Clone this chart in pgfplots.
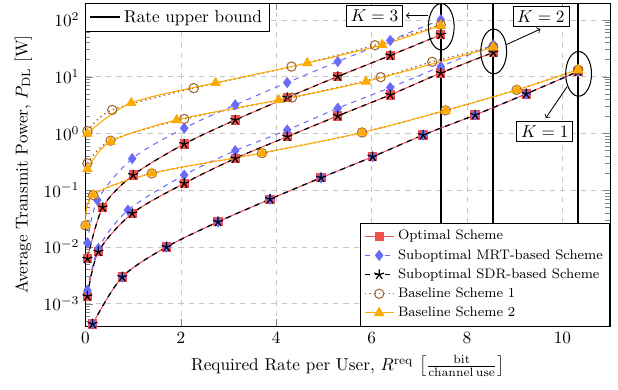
\documentclass[border=0pt]{standalone}
\usepackage{pgfplots}
\pgfplotsset{compat=1.18}
\usetikzlibrary{shapes.geometric}
\definecolor{optcol}{RGB}{240,80,80}
\definecolor{mrtcol}{RGB}{105,105,250}
\definecolor{b1col}{RGB}{160,100,45}
\definecolor{b2col}{RGB}{255,170,0}
\pgfplotsset{
  myaxisbase/.style={
    scale only axis, width=305pt, height=188pt,
    xmin=0, xmax=11, ymin=4e-4, ymax=200,
  },
  opt/.style={optcol, line width=0.6pt, mark=square*, mark size=2.4pt, mark options={solid, fill=optcol}},
  mrt/.style={mrtcol, dashed, line width=0.6pt, mark=diamond*, mark size=2.8pt, mark options={solid, fill=mrtcol}},
  sdr/.style={black, dashed, line width=0.7pt, mark=star, mark size=3pt, mark options={solid, line width=0.7pt}},
  bone/.style={b1col, dotted, line width=0.8pt, mark=o, mark size=2.7pt, mark options={solid, line width=0.6pt}},
  btwo/.style={b2col, line width=0.6pt, mark=triangle*, mark size=3pt, mark options={solid, fill=b2col}},
}
\begin{document}
\begin{tikzpicture}
\begin{semilogyaxis}[myaxisbase,
  xtick={0,2,4,6,8,10},
  grid=major, grid style={dashed, gray!45},
  tick align=inside,
  xlabel={Required Rate per User, $R^{\mathrm{req}}$ $\left[\frac{\mathrm{bit}}{\mathrm{channel\,use}}\right]$},
  ylabel={Average Transmit Power, $P_{\mathrm{DL}}$ [W]},
  legend cell align=left,
  legend style={font=\footnotesize, draw=black, fill=white, inner sep=2pt, at={(1,0)}, anchor=south east},
]
% Rate upper bounds
\addplot[black, line width=1.2pt, forget plot] coordinates {(7.45,4e-4) (7.45,200)};
\addplot[black, line width=1.2pt, forget plot] coordinates {(8.55,4e-4) (8.55,200)};
\addplot[black, line width=1.2pt, forget plot] coordinates {(10.33,4e-4) (10.33,200)};
% Optimal
\addplot[opt, smooth] coordinates {(0.15,4.4e-4) (0.77,2.95e-3) (1.70,0.0100) (2.78,0.0277) (3.87,0.0696) (4.94,0.166) (6.02,0.389) (7.08,0.94) (8.17,2.12) (9.24,4.99) (10.33,12.4)};
\addlegendentry{Optimal Scheme}
\addplot[opt, smooth, forget plot] coordinates {(0.04,1.35e-3) (0.27,8.2e-3) (0.98,0.039) (2.07,0.132) (3.14,0.363) (4.23,0.877) (5.29,2.04) (6.39,4.79) (7.45,11.6) (8.55,26.8)};
\addplot[opt, smooth, forget plot] coordinates {(0.04,6.2e-3) (0.36,0.0497) (1.0,0.185) (2.07,0.652) (3.14,1.73) (4.23,4.29) (5.29,10.1) (6.39,23.7) (7.45,55.0)};
% MRT
\addplot[mrt, smooth] coordinates {(0.15,4.4e-4) (0.77,2.95e-3) (1.70,0.0100) (2.78,0.0277) (3.87,0.0696) (4.94,0.166) (6.02,0.389) (7.08,0.94) (8.17,2.12) (9.24,4.99) (10.33,12.4)};
\addlegendentry{Suboptimal MRT-based Scheme}
\addplot[mrt, smooth, forget plot] coordinates {(0.04,1.72e-3) (0.27,9.4e-3) (0.89,0.0445) (2.07,0.185) (3.14,0.497) (4.23,1.15) (5.29,2.79) (6.39,6.44) (7.45,15.1) (8.55,36.6)};
\addplot[mrt, smooth, forget plot] coordinates {(0.04,0.0118) (0.25,0.0668) (0.98,0.361) (2.07,1.24) (3.14,3.19) (4.23,7.9) (5.29,18.5) (6.39,43.6) (7.45,101)};
% SDR
\addplot[sdr, smooth] coordinates {(0.15,4.4e-4) (0.77,2.95e-3) (1.70,0.0100) (2.78,0.0277) (3.87,0.0696) (4.94,0.166) (6.02,0.389) (7.08,0.94) (8.17,2.12) (9.24,4.99) (10.33,12.4)};
\addlegendentry{Suboptimal SDR-based Scheme}
\addplot[sdr, smooth, forget plot] coordinates {(0.04,1.35e-3) (0.27,8.2e-3) (0.98,0.039) (2.07,0.132) (3.14,0.363) (4.23,0.877) (5.29,2.04) (6.39,4.79) (7.45,11.6) (8.55,26.8)};
\addplot[sdr, smooth, forget plot] coordinates {(0.04,6.2e-3) (0.36,0.0497) (1.0,0.185) (2.07,0.652) (3.14,1.73) (4.23,4.29) (5.29,10.1) (6.39,23.7) (7.45,55.0)};
% Baseline 1
\addplot[bone, smooth] coordinates {(0.0,0.024) (0.16,0.082) (1.39,0.198) (3.70,0.452) (5.80,1.04) (7.55,2.55) (9.04,5.87) (10.33,13.3)};
\addlegendentry{Baseline Scheme 1}
\addplot[bone, smooth, forget plot] coordinates {(0.04,0.297) (0.525,0.746) (2.07,1.80) (4.33,4.29) (6.19,9.84) (7.27,18.3) (8.55,34)};
\addplot[bone, smooth, forget plot] coordinates {(0.04,1.1) (0.56,2.6) (2.27,6.3) (4.32,15.1) (6.07,35.9) (7.45,82.6)};
% Baseline 2
\addplot[btwo, smooth] coordinates {(0.0,0.024) (0.16,0.082) (1.39,0.198) (3.70,0.452) (5.80,1.04) (7.55,2.55) (9.04,5.87) (10.33,13.3)};
\addlegendentry{Baseline Scheme 2}
\addplot[btwo, smooth, forget plot] coordinates {(0.04,0.236) (0.525,0.72) (1.91,1.73) (4.05,3.91) (5.88,8.23) (8.55,33)};
\addplot[btwo, smooth, forget plot] coordinates {(0.04,1.0) (0.96,3.46) (2.73,7.8) (4.65,17.4) (6.22,36.6) (7.45,80)};
% annotations
\node[draw, ellipse, line width=0.6pt, minimum width=15pt, minimum height=27pt, inner sep=0pt] at (axis cs:7.46,76) {};
\node[draw, ellipse, line width=0.6pt, minimum width=15pt, minimum height=26pt, inner sep=0pt] at (axis cs:8.56,27.9) {};
\node[draw, ellipse, line width=0.6pt, minimum width=15pt, minimum height=26pt, inner sep=0pt] at (axis cs:10.34,11.25) {};
\node[draw, fill=white, inner sep=2.5pt] at (axis cs:6.06,119) {$K=3$};
\node[draw, fill=white, inner sep=2.5pt] at (axis cs:9.55,116) {$K=2$};
\node[draw, fill=white, inner sep=2.5pt] at (axis cs:9.63,1.1) {$K=1$};
\draw[->, line width=0.5pt] (axis cs:7.19,120) -- (axis cs:6.72,120);
\draw[->, line width=0.5pt] (axis cs:8.82,36.6) -- (axis cs:9.54,69.3);
\draw[->, line width=0.5pt] (axis cs:10.10,6.71) -- (axis cs:9.65,1.86);
\end{semilogyaxis}
\begin{semilogyaxis}[myaxisbase, hide axis,
  legend style={draw=black, fill=white, at={(0,1)}, anchor=north west, inner sep=2pt},
]
\addplot[draw=none, forget plot] coordinates {(1,1)};
\addlegendimage{black, line width=1.2pt}
\addlegendentry{Rate upper bound}
\end{semilogyaxis}
\path ([xshift=-49.7pt, yshift=-36.6pt]current axis.south west) rectangle ([xshift=4.6pt, yshift=1.7pt]current axis.north east);
\end{tikzpicture}
\end{document}
